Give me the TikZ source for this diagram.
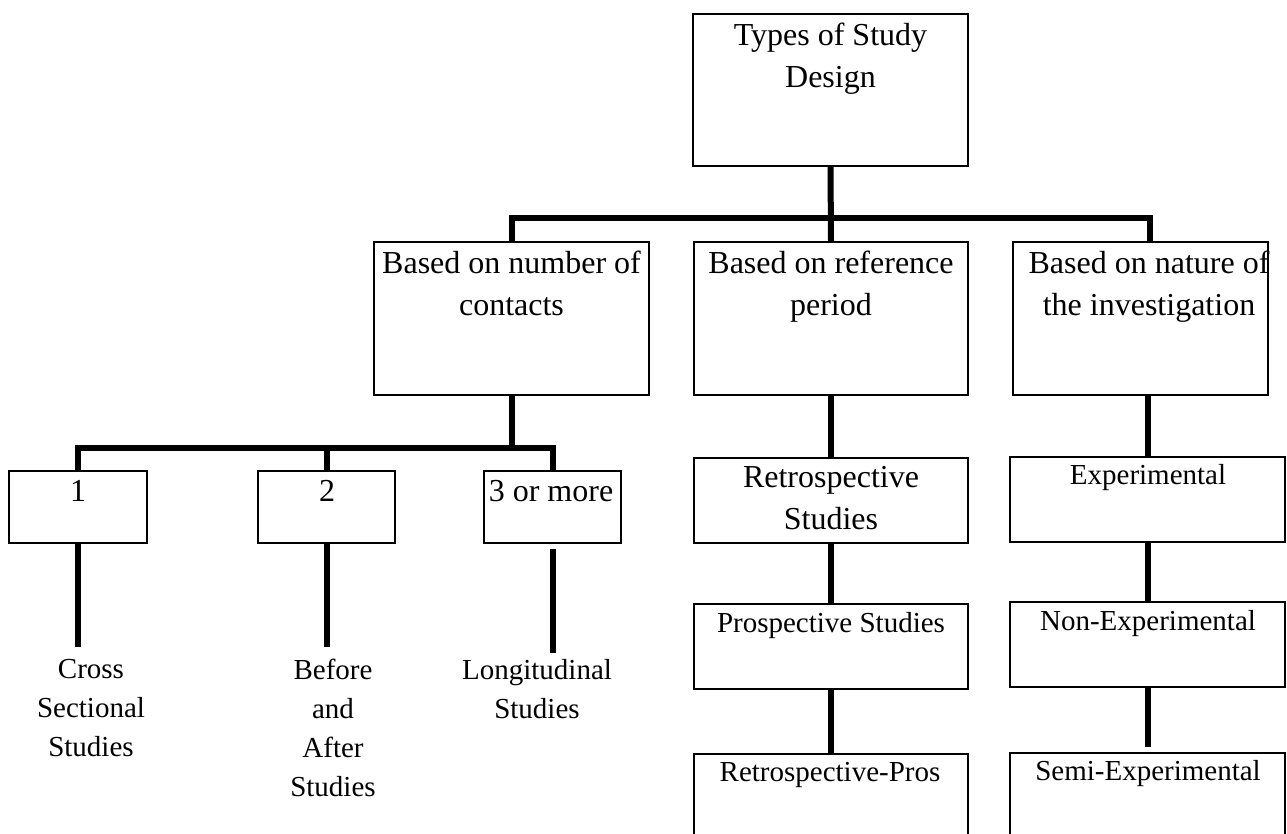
\documentclass[tikz,border=0pt]{standalone}
\usepackage{fontspec}
\setmainfont{Liberation Serif}
\begin{document}
\begin{tikzpicture}[x=1pt,y=-1pt,
  box/.style={draw, line width=1.3pt, inner sep=0pt},
  big/.style={font=\fontsize{32}{42}\selectfont, align=center, inner sep=0pt, anchor=north},
  small/.style={font=\fontsize{29}{39}\selectfont, align=center, inner sep=0pt, anchor=north},
  link/.style={line width=6pt, line join=miter}]
\useasboundingbox (0,0) rectangle (1287,833);
\begin{scope}
\clip (0,0) rectangle (1287,833);

% boxes
\node[box, minimum width=275pt, minimum height=152pt] (top) at (830.5,90) {};
\node[box, minimum width=275pt, minimum height=153pt] (A) at (511.5,318.5) {};
\node[box, minimum width=274pt, minimum height=153pt] (B) at (831,318.5) {};
\node[box, minimum width=255pt, minimum height=153pt] (C) at (1140.5,318.5) {};
\node[box, minimum width=138pt, minimum height=72pt] (b1) at (78,507) {};
\node[box, minimum width=137pt, minimum height=72pt] (b2) at (326.5,507) {};
\node[box, minimum width=137pt, minimum height=72pt] (b3) at (552.5,507) {};
\node[box, minimum width=274pt, minimum height=85pt] (ret) at (831,500.5) {};
\node[box, minimum width=274pt, minimum height=85pt] (pros) at (831,646.5) {};
\node[box, minimum width=274pt, minimum height=92pt] (rp) at (831,800) {};
\node[box, minimum width=275pt, minimum height=85pt] (exp) at (1147.5,499.5) {};
\node[box, minimum width=275pt, minimum height=85pt] (non) at (1147.5,644.5) {};
\node[box, minimum width=275pt, minimum height=94pt] (semi) at (1147.5,800) {};

% texts
\node[big] (ttop) at (830.5,23) {Types of Study\\Design};
\node[big] (tA) at (511.5,251) {Based on number of\\contacts};
\node[big] (tB) at (831,251) {Based on reference\\period};
\node[big] (tC) at (1149,251) {Based on nature of\\the investigation};
\node[big] (t1) at (78,480) {1};
\node[big] (t2) at (327,480) {2};
\node[big] (t3) at (551,480) {3 or more};
\node[big] (tret) at (831,466) {Retrospective\\Studies};
\node[small] (tpros) at (831,612) {Prospective Studies};
\node[small] (trp) at (830,762) {Retrospective-Pros};
\node[small] (texp) at (1148,464) {Experimental};
\node[small] (tnon) at (1148,610) {Non-Experimental};
\node[small] (tsemi) at (1148,760) {Semi-Experimental};
\node[small] (tcross) at (91,659) {Cross\\Sectional\\Studies};
\node[small] (tba) at (333,659) {Before\\and\\After\\Studies};
\node[small] (tlong) at (537,659) {Longitudinal\\Studies};

% connectors
\coordinate (busT) at (830.5,218);
\coordinate (busA) at (511.5,448);
\draw[link] (top.south) -- (B.north);
\draw[link] (A.north) -- (A.north |- busT) -- ([xshift=9.5pt]C.north |- busT) -- ([xshift=9.5pt]C.north);
\draw[link] (A.south) -- (busA);
\draw[link] (b1.north) -- (b1.north |- busA) -- (b3.north |- busA) -- (b3.north);
\draw[link] (b2.north) -- (b2.north |- busA);
\draw[link, shorten >=12pt] (b1.south) -- (b1.south |- tcross.north);
\draw[link, shorten >=12pt] (b2.south) -- (b2.south |- tba.north);
\draw[link, shorten <=5pt, shorten >=6pt] (b3.south) -- (b3.south |- tlong.north);
\draw[link] (B.south) -- (ret.north);
\draw[link] (ret.south) -- (pros.north);
\draw[link] (pros.south) -- (rp.north);
\draw[link] (exp.north |- C.south) -- (exp.north);
\draw[link] (exp.south) -- (non.north);
\draw[link, shorten >=5pt] (non.south) -- (semi.north);
\end{scope}
\end{tikzpicture}
\end{document}
